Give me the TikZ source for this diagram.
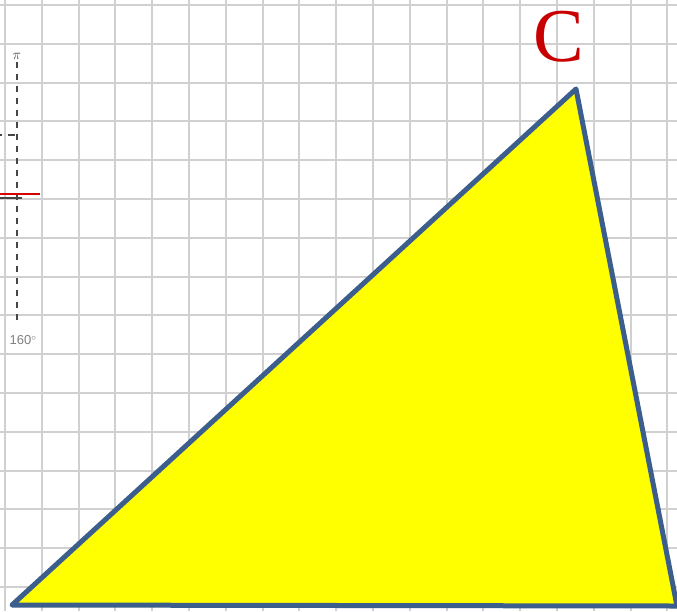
\documentclass[tikz,border=0pt]{standalone}
\usepackage{fontspec}
\setmainfont{Liberation Serif}
\newfontfamily\sansf{Liberation Sans}
\definecolor{gridgray}{RGB}{208,208,208}
\definecolor{edgeblue}{RGB}{60,94,140}
\definecolor{labelred}{RGB}{200,0,0}
\definecolor{axisgray}{RGB}{70,70,70}
\definecolor{fillyellow}{RGB}{255,255,0}
\begin{document}
\begin{tikzpicture}[x=1pt,y=-1pt,
  gridline/.style={draw=gridgray,line width=2pt},
  triedge/.style={draw=edgeblue,fill=fillyellow,line width=5pt,line join=round},
  axisdash/.style={draw=axisgray,line width=1.3pt,dash pattern=on 6pt off 6pt},
  smalltext/.style={text=gray,font=\sansf\fontsize{13}{13}\selectfont,inner sep=0pt}]
\useasboundingbox (0,0) rectangle (677,611);
\fill[white] (0,0) rectangle (677,611);
% grid
\foreach \k in {0,...,18} {\draw[gridline] ({5+36.8*\k},0) -- ({5+36.8*\k},611);}
\foreach \k in {0,...,15} {\draw[gridline] (0,{5+38.8*\k}) -- (677,{5+38.8*\k});}
% partial axis drawing at left
\coordinate (axtop) at (17,62);
\coordinate (axbot) at (17,322);
\draw[axisdash] (axtop) -- (axbot);
\node[smalltext,text=axisgray,font=\fontsize{14}{14}\selectfont] (pi) at (17,56) {$\pi$};
\coordinate (tickL) at (0,135);
\coordinate (tickR) at (15,135);
\draw[axisdash,dash pattern=on 2pt off 6pt on 7pt off 20pt] (tickL) -- (tickR);
\coordinate (redL) at (0,194);
\coordinate (redR) at (40,194);
\draw[red!85!black,line width=1.3pt] (redL) -- (redR);
\coordinate (blkL) at (0,198);
\coordinate (blkR) at (22,198);
\draw[axisgray,line width=1.3pt] (blkL) -- (blkR);
\node[smalltext] (deg) at (23,340) {160\textsuperscript{$\circ$}};
% triangle
\coordinate (A) at (12,605);
\coordinate (B) at (677,606);
\coordinate (Cv) at (576,89);
\draw[triedge] (A) -- (B) -- (Cv) -- cycle;
\node[text=labelred,font=\fontsize{76}{76}\selectfont,inner sep=0pt] (Clabel) at (559,37) {C};
\end{tikzpicture}
\end{document}
